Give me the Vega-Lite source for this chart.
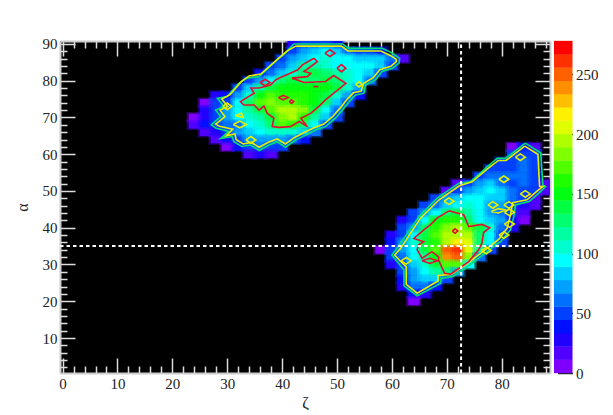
{"$schema":"https://vega.github.io/schema/vega-lite/v6.json","background":"white","padding":{"left":14,"top":36,"right":0,"bottom":0},"spacing":-1,
"config":{"view":{"stroke":null},"font":"Liberation Serif","axis":{"grid":false,"labelFont":"Liberation Serif","titleFont":"Liberation Serif","labelFontSize":15,"titleFontSize":16,"labelColor":"#222","titleColor":"#222","titleFontWeight":"normal","domainColor":"#ccc","domainWidth":2,"tickColor":"#ddd","tickWidth":1.5}},
"datasets":{
"cells":[
{"x":42,"y":90,"v":30},{"x":44,"y":90,"v":45},{"x":46,"y":90,"v":50},{"x":48,"y":90,"v":50},{"x":50,"y":90,"v":40},
{"x":42,"y":88,"v":55},{"x":44,"y":88,"v":70},{"x":46,"y":88,"v":80},{"x":48,"y":88,"v":90},{"x":50,"y":88,"v":85},{"x":52,"y":88,"v":60},{"x":54,"y":88,"v":55},{"x":56,"y":88,"v":55},{"x":58,"y":88,"v":40},
{"x":40,"y":86,"v":50},{"x":42,"y":86,"v":70},{"x":44,"y":86,"v":85},{"x":46,"y":86,"v":100},{"x":48,"y":86,"v":105},{"x":50,"y":86,"v":90},{"x":52,"y":86,"v":90},{"x":54,"y":86,"v":85},{"x":56,"y":86,"v":80},{"x":58,"y":86,"v":80},{"x":60,"y":86,"v":60},{"x":62,"y":86,"v":15},
{"x":38,"y":84,"v":45},{"x":40,"y":84,"v":65},{"x":42,"y":84,"v":85},{"x":44,"y":84,"v":115},{"x":46,"y":84,"v":120},{"x":48,"y":84,"v":110},{"x":50,"y":84,"v":100},{"x":52,"y":84,"v":100},{"x":54,"y":84,"v":95},{"x":56,"y":84,"v":90},{"x":58,"y":84,"v":80},{"x":60,"y":84,"v":50},
{"x":36,"y":82,"v":40},{"x":38,"y":82,"v":65},{"x":40,"y":82,"v":85},{"x":42,"y":82,"v":110},{"x":44,"y":82,"v":125},{"x":46,"y":82,"v":135},{"x":48,"y":82,"v":125},{"x":50,"y":82,"v":115},{"x":52,"y":82,"v":105},{"x":54,"y":82,"v":95},{"x":56,"y":82,"v":80},{"x":58,"y":82,"v":50},
{"x":34,"y":80,"v":50},{"x":36,"y":80,"v":70},{"x":38,"y":80,"v":95},{"x":40,"y":80,"v":125},{"x":42,"y":80,"v":135},{"x":44,"y":80,"v":130},{"x":46,"y":80,"v":125},{"x":48,"y":80,"v":140},{"x":50,"y":80,"v":130},{"x":52,"y":80,"v":110},{"x":54,"y":80,"v":90},{"x":56,"y":80,"v":60},
{"x":32,"y":78,"v":45},{"x":34,"y":78,"v":80},{"x":36,"y":78,"v":115},{"x":38,"y":78,"v":135},{"x":40,"y":78,"v":150},{"x":42,"y":78,"v":155},{"x":44,"y":78,"v":150},{"x":46,"y":78,"v":150},{"x":48,"y":78,"v":150},{"x":50,"y":78,"v":135},{"x":52,"y":78,"v":105},{"x":54,"y":78,"v":70},
{"x":28,"y":76,"v":30},{"x":30,"y":76,"v":40},{"x":32,"y":76,"v":70},{"x":34,"y":76,"v":105},{"x":36,"y":76,"v":145},{"x":38,"y":76,"v":170},{"x":40,"y":76,"v":165},{"x":42,"y":76,"v":165},{"x":44,"y":76,"v":160},{"x":46,"y":76,"v":150},{"x":48,"y":76,"v":135},{"x":50,"y":76,"v":110},{"x":52,"y":76,"v":75},{"x":54,"y":76,"v":40},
{"x":26,"y":74,"v":10},{"x":28,"y":74,"v":45},{"x":30,"y":74,"v":55},{"x":32,"y":74,"v":90},{"x":34,"y":74,"v":130},{"x":36,"y":74,"v":175},{"x":38,"y":74,"v":185},{"x":40,"y":74,"v":175},{"x":42,"y":74,"v":170},{"x":44,"y":74,"v":165},{"x":46,"y":74,"v":150},{"x":48,"y":74,"v":125},{"x":50,"y":74,"v":85},{"x":52,"y":74,"v":50},
{"x":26,"y":72,"v":25},{"x":28,"y":72,"v":50},{"x":30,"y":72,"v":75},{"x":32,"y":72,"v":95},{"x":34,"y":72,"v":120},{"x":36,"y":72,"v":135},{"x":38,"y":72,"v":170},{"x":40,"y":72,"v":190},{"x":42,"y":72,"v":195},{"x":44,"y":72,"v":180},{"x":46,"y":72,"v":140},{"x":48,"y":72,"v":100},{"x":50,"y":72,"v":60},
{"x":24,"y":70,"v":10},{"x":26,"y":70,"v":30},{"x":28,"y":70,"v":50},{"x":30,"y":70,"v":70},{"x":32,"y":70,"v":90},{"x":34,"y":70,"v":105},{"x":36,"y":70,"v":120},{"x":38,"y":70,"v":140},{"x":40,"y":70,"v":185},{"x":42,"y":70,"v":200},{"x":44,"y":70,"v":165},{"x":46,"y":70,"v":115},{"x":48,"y":70,"v":80},{"x":50,"y":70,"v":45},
{"x":24,"y":68,"v":20},{"x":26,"y":68,"v":35},{"x":28,"y":68,"v":55},{"x":30,"y":68,"v":60},{"x":32,"y":68,"v":65},{"x":34,"y":68,"v":95},{"x":36,"y":68,"v":105},{"x":38,"y":68,"v":130},{"x":40,"y":68,"v":175},{"x":42,"y":68,"v":160},{"x":44,"y":68,"v":130},{"x":46,"y":68,"v":95},{"x":48,"y":68,"v":55},
{"x":26,"y":66,"v":15},{"x":28,"y":66,"v":30},{"x":30,"y":66,"v":50},{"x":32,"y":66,"v":70},{"x":34,"y":66,"v":85},{"x":36,"y":66,"v":95},{"x":38,"y":66,"v":105},{"x":40,"y":66,"v":110},{"x":42,"y":66,"v":105},{"x":44,"y":66,"v":85},{"x":46,"y":66,"v":60},
{"x":28,"y":64,"v":15},{"x":30,"y":64,"v":40},{"x":32,"y":64,"v":55},{"x":34,"y":64,"v":70},{"x":36,"y":64,"v":75},{"x":38,"y":64,"v":70},{"x":40,"y":64,"v":75},{"x":42,"y":64,"v":65},{"x":44,"y":64,"v":40},
{"x":30,"y":62,"v":10},{"x":32,"y":62,"v":35},{"x":34,"y":62,"v":50},{"x":36,"y":62,"v":60},{"x":38,"y":62,"v":45},{"x":40,"y":62,"v":50},
{"x":34,"y":60,"v":15},{"x":36,"y":60,"v":25},{"x":38,"y":60,"v":15},
{"x":82,"y":62,"v":10},{"x":84,"y":62,"v":40},{"x":86,"y":62,"v":20},
{"x":82,"y":60,"v":45},{"x":84,"y":60,"v":50},{"x":86,"y":60,"v":45},
{"x":80,"y":58,"v":45},{"x":82,"y":58,"v":55},{"x":84,"y":58,"v":60},{"x":86,"y":58,"v":50},
{"x":78,"y":56,"v":45},{"x":80,"y":56,"v":50},{"x":82,"y":56,"v":55},{"x":84,"y":56,"v":60},{"x":86,"y":56,"v":50},
{"x":76,"y":54,"v":45},{"x":78,"y":54,"v":60},{"x":80,"y":54,"v":60},{"x":82,"y":54,"v":60},{"x":84,"y":54,"v":65},{"x":86,"y":54,"v":50},
{"x":72,"y":52,"v":15},{"x":74,"y":52,"v":50},{"x":76,"y":52,"v":75},{"x":78,"y":52,"v":85},{"x":80,"y":52,"v":65},{"x":82,"y":52,"v":55},{"x":84,"y":52,"v":60},{"x":86,"y":52,"v":50},{"x":88,"y":52,"v":20},
{"x":70,"y":50,"v":20},{"x":72,"y":50,"v":50},{"x":74,"y":50,"v":70},{"x":76,"y":50,"v":85},{"x":78,"y":50,"v":95},{"x":80,"y":50,"v":85},{"x":82,"y":50,"v":60},{"x":84,"y":50,"v":55},{"x":86,"y":50,"v":45},{"x":88,"y":50,"v":20},
{"x":68,"y":48,"v":45},{"x":70,"y":48,"v":70},{"x":72,"y":48,"v":85},{"x":74,"y":48,"v":100},{"x":76,"y":48,"v":95},{"x":78,"y":48,"v":85},{"x":80,"y":48,"v":80},{"x":82,"y":48,"v":65},{"x":84,"y":48,"v":50},{"x":86,"y":48,"v":15},
{"x":66,"y":46,"v":45},{"x":68,"y":46,"v":60},{"x":70,"y":46,"v":80},{"x":72,"y":46,"v":100},{"x":74,"y":46,"v":105},{"x":76,"y":46,"v":95},{"x":78,"y":46,"v":70},{"x":80,"y":46,"v":75},{"x":82,"y":46,"v":55},{"x":84,"y":46,"v":30},{"x":86,"y":46,"v":15},
{"x":64,"y":44,"v":45},{"x":66,"y":44,"v":70},{"x":68,"y":44,"v":95},{"x":70,"y":44,"v":130},{"x":72,"y":44,"v":140},{"x":74,"y":44,"v":115},{"x":76,"y":44,"v":90},{"x":78,"y":44,"v":75},{"x":80,"y":44,"v":60},{"x":82,"y":44,"v":45},{"x":84,"y":44,"v":20},
{"x":62,"y":42,"v":30},{"x":64,"y":42,"v":55},{"x":66,"y":42,"v":90},{"x":68,"y":42,"v":145},{"x":70,"y":42,"v":160},{"x":72,"y":42,"v":165},{"x":74,"y":42,"v":130},{"x":76,"y":42,"v":100},{"x":78,"y":42,"v":85},{"x":80,"y":42,"v":75},{"x":82,"y":42,"v":40},{"x":84,"y":42,"v":10},
{"x":62,"y":40,"v":45},{"x":64,"y":40,"v":70},{"x":66,"y":40,"v":130},{"x":68,"y":40,"v":165},{"x":70,"y":40,"v":185},{"x":72,"y":40,"v":195},{"x":74,"y":40,"v":175},{"x":76,"y":40,"v":140},{"x":78,"y":40,"v":110},{"x":80,"y":40,"v":65},{"x":82,"y":40,"v":30},
{"x":60,"y":38,"v":30},{"x":62,"y":38,"v":50},{"x":64,"y":38,"v":95},{"x":66,"y":38,"v":140},{"x":68,"y":38,"v":170},{"x":70,"y":38,"v":190},{"x":72,"y":38,"v":200},{"x":74,"y":38,"v":195},{"x":76,"y":38,"v":125},{"x":78,"y":38,"v":90},{"x":80,"y":38,"v":55},
{"x":60,"y":36,"v":40},{"x":62,"y":36,"v":70},{"x":64,"y":36,"v":110},{"x":66,"y":36,"v":140},{"x":68,"y":36,"v":165},{"x":70,"y":36,"v":195},{"x":72,"y":36,"v":215},{"x":74,"y":36,"v":205},{"x":76,"y":36,"v":130},{"x":78,"y":36,"v":90},{"x":80,"y":36,"v":50},
{"x":58,"y":34,"v":10},{"x":60,"y":34,"v":45},{"x":62,"y":34,"v":70},{"x":64,"y":34,"v":100},{"x":66,"y":34,"v":135},{"x":68,"y":34,"v":170},{"x":70,"y":34,"v":245},{"x":72,"y":34,"v":265},{"x":74,"y":34,"v":205},{"x":76,"y":34,"v":120},{"x":78,"y":34,"v":45},
{"x":60,"y":32,"v":45},{"x":62,"y":32,"v":65},{"x":64,"y":32,"v":90},{"x":66,"y":32,"v":120},{"x":68,"y":32,"v":155},{"x":70,"y":32,"v":235},{"x":72,"y":32,"v":250},{"x":74,"y":32,"v":185},{"x":76,"y":32,"v":60},
{"x":60,"y":30,"v":30},{"x":62,"y":30,"v":55},{"x":64,"y":30,"v":80},{"x":66,"y":30,"v":105},{"x":68,"y":30,"v":140},{"x":70,"y":30,"v":175},{"x":72,"y":30,"v":170},{"x":74,"y":30,"v":90},
{"x":62,"y":28,"v":45},{"x":64,"y":28,"v":70},{"x":66,"y":28,"v":95},{"x":68,"y":28,"v":115},{"x":70,"y":28,"v":130},{"x":72,"y":28,"v":70},
{"x":62,"y":26,"v":40},{"x":64,"y":26,"v":70},{"x":66,"y":26,"v":80},{"x":68,"y":26,"v":80},{"x":70,"y":26,"v":50},
{"x":62,"y":24,"v":25},{"x":64,"y":24,"v":60},{"x":66,"y":24,"v":65},{"x":68,"y":24,"v":40},
{"x":64,"y":22,"v":35},{"x":66,"y":22,"v":30},{"x":64,"y":20,"v":10}
],
"contours":[
{"c":"g1","k":"g","x":42.1,"y":90},{"c":"g1","k":"g","x":51,"y":90},{"c":"g1","k":"g","x":52.2,"y":88.8},{"c":"g1","k":"g","x":58.2,"y":88.8},{"c":"g1","k":"g","x":60.1,"y":87.5},{"c":"g1","k":"g","x":61.4,"y":86.1},{"c":"g1","k":"g","x":61.3,"y":84.8},{"c":"g1","k":"g","x":60.1,"y":83.4},{"c":"g1","k":"g","x":58.2,"y":82.5},{"c":"g1","k":"g","x":57,"y":80.2},{"c":"g1","k":"g","x":55.2,"y":78.8},{"c":"g1","k":"g","x":54.9,"y":76.6},{"c":"g1","k":"g","x":53.4,"y":76.1},{"c":"g1","k":"g","x":52.2,"y":74.3},{"c":"g1","k":"g","x":51,"y":72},{"c":"g1","k":"g","x":49.7,"y":69.8},{"c":"g1","k":"g","x":47.9,"y":67.5},{"c":"g1","k":"g","x":46.1,"y":66.6},{"c":"g1","k":"g","x":44.3,"y":65.2},{"c":"g1","k":"g","x":42.5,"y":63.9},{"c":"g1","k":"g","x":40.6,"y":61.9},{"c":"g1","k":"g","x":39.1,"y":63.4},{"c":"g1","k":"g","x":37.6,"y":62.5},{"c":"g1","k":"g","x":35.8,"y":61},{"c":"g1","k":"g","x":34.3,"y":62.5},{"c":"g1","k":"g","x":32.7,"y":62.1},{"c":"g1","k":"g","x":31.2,"y":63.4},{"c":"g1","k":"g","x":30.9,"y":64.8},{"c":"g1","k":"g","x":28.8,"y":64.3},{"c":"g1","k":"g","x":30.3,"y":66.2},{"c":"g1","k":"g","x":27.9,"y":67.1},{"c":"g1","k":"g","x":27.1,"y":68},{"c":"g1","k":"g","x":28.8,"y":70.2},{"c":"g1","k":"g","x":27.9,"y":72},{"c":"g1","k":"g","x":29.4,"y":73},{"c":"g1","k":"g","x":28.2,"y":75.2},{"c":"g1","k":"g","x":30,"y":75.7},{"c":"g1","k":"g","x":32.1,"y":79.3},{"c":"g1","k":"g","x":33.6,"y":80.7},{"c":"g1","k":"g","x":35.8,"y":81.1},{"c":"g1","k":"g","x":39.4,"y":86.1},{"c":"g1","k":"g","x":40.6,"y":87.5},{"c":"g1","k":"g","x":42.1,"y":90},
{"c":"y1","k":"y","x":42.5,"y":89.4},{"c":"y1","k":"y","x":50.8,"y":89.4},{"c":"y1","k":"y","x":52,"y":88.1},{"c":"y1","k":"y","x":58,"y":88.1},{"c":"y1","k":"y","x":59.8,"y":86.8},{"c":"y1","k":"y","x":60.8,"y":85.8},{"c":"y1","k":"y","x":60.8,"y":85.2},{"c":"y1","k":"y","x":59.8,"y":83.9},{"c":"y1","k":"y","x":57.8,"y":83},{"c":"y1","k":"y","x":56.6,"y":80.8},{"c":"y1","k":"y","x":54.8,"y":79.2},{"c":"y1","k":"y","x":54.4,"y":77.2},{"c":"y1","k":"y","x":53,"y":76.7},{"c":"y1","k":"y","x":51.8,"y":74.9},{"c":"y1","k":"y","x":50.6,"y":72.6},{"c":"y1","k":"y","x":49.3,"y":70.4},{"c":"y1","k":"y","x":47.6,"y":68.2},{"c":"y1","k":"y","x":45.8,"y":67.2},{"c":"y1","k":"y","x":44,"y":65.9},{"c":"y1","k":"y","x":42.2,"y":64.5},{"c":"y1","k":"y","x":40.6,"y":62.8},{"c":"y1","k":"y","x":39.1,"y":64.2},{"c":"y1","k":"y","x":37.6,"y":63.3},{"c":"y1","k":"y","x":35.8,"y":61.9},{"c":"y1","k":"y","x":34.4,"y":63.2},{"c":"y1","k":"y","x":32.9,"y":62.8},{"c":"y1","k":"y","x":31.6,"y":64},{"c":"y1","k":"y","x":31.4,"y":65.5},{"c":"y1","k":"y","x":29.8,"y":65},{"c":"y1","k":"y","x":31,"y":66.8},{"c":"y1","k":"y","x":28.6,"y":67.6},{"c":"y1","k":"y","x":27.9,"y":68.2},{"c":"y1","k":"y","x":29.6,"y":70.2},{"c":"y1","k":"y","x":28.7,"y":72},{"c":"y1","k":"y","x":30.1,"y":73},{"c":"y1","k":"y","x":29,"y":75},{"c":"y1","k":"y","x":30.5,"y":76.2},{"c":"y1","k":"y","x":32.6,"y":79.8},{"c":"y1","k":"y","x":34,"y":81.3},{"c":"y1","k":"y","x":36.1,"y":81.8},{"c":"y1","k":"y","x":39.8,"y":86.7},{"c":"y1","k":"y","x":41,"y":88.2},{"c":"y1","k":"y","x":42.5,"y":89.4},
{"c":"r1","k":"r","x":45.8,"y":86.1},{"c":"r1","k":"r","x":43.7,"y":84.3},{"c":"r1","k":"r","x":42.8,"y":82.9},{"c":"r1","k":"r","x":40,"y":81.1},{"c":"r1","k":"r","x":38.8,"y":80.2},{"c":"r1","k":"r","x":37.9,"y":78.8},{"c":"r1","k":"r","x":35.8,"y":78},{"c":"r1","k":"r","x":34.3,"y":78},{"c":"r1","k":"r","x":34.9,"y":76.6},{"c":"r1","k":"r","x":32.4,"y":74.3},{"c":"r1","k":"r","x":33,"y":73.4},{"c":"r1","k":"r","x":34.9,"y":73.4},{"c":"r1","k":"r","x":35.8,"y":72},{"c":"r1","k":"r","x":36.7,"y":73.1},{"c":"r1","k":"r","x":37.3,"y":71.1},{"c":"r1","k":"r","x":38.5,"y":69.8},{"c":"r1","k":"r","x":38.2,"y":67.5},{"c":"r1","k":"r","x":39.4,"y":67.3},{"c":"r1","k":"r","x":41.5,"y":67.5},{"c":"r1","k":"r","x":43.1,"y":68.9},{"c":"r1","k":"r","x":44.6,"y":67.5},{"c":"r1","k":"r","x":43.4,"y":69.8},{"c":"r1","k":"r","x":45.2,"y":71.1},{"c":"r1","k":"r","x":46.7,"y":73},{"c":"r1","k":"r","x":47.9,"y":74.8},{"c":"r1","k":"r","x":51.6,"y":79.3},{"c":"r1","k":"r","x":49.4,"y":81.4},{"c":"r1","k":"r","x":47.9,"y":79.8},{"c":"r1","k":"r","x":44,"y":79.5},{"c":"r1","k":"r","x":41.8,"y":80.7},{"c":"r1","k":"r","x":44.6,"y":81.1},{"c":"r1","k":"r","x":45.2,"y":82},{"c":"r1","k":"r","x":44,"y":82.5},{"c":"r1","k":"r","x":46.4,"y":85.2},{"c":"r1","k":"r","x":45.8,"y":86.1},
{"c":"a1","k":"r","x":47.8,"y":87.5},{"c":"a1","k":"r","x":48.7,"y":88.4},{"c":"a1","k":"r","x":49.6,"y":87.5},{"c":"a1","k":"r","x":48.7,"y":86.6},{"c":"a1","k":"r","x":47.8,"y":87.5},
{"c":"a2","k":"r","x":50,"y":83.4},{"c":"a2","k":"r","x":50.8,"y":84.4},{"c":"a2","k":"r","x":51.6,"y":83.4},{"c":"a2","k":"r","x":50.8,"y":82.4},{"c":"a2","k":"r","x":50,"y":83.4},
{"c":"a3","k":"r","x":36,"y":79.5},{"c":"a3","k":"r","x":36.9,"y":80.4},{"c":"a3","k":"r","x":37.8,"y":79.5},{"c":"a3","k":"r","x":36.9,"y":78.6},{"c":"a3","k":"r","x":36,"y":79.5},
{"c":"a4","k":"r","x":39.3,"y":75.4},{"c":"a4","k":"r","x":40.2,"y":76},{"c":"a4","k":"r","x":41.1,"y":75.4},{"c":"a4","k":"r","x":40.2,"y":74.8},{"c":"a4","k":"r","x":39.3,"y":75.4},
{"c":"a5","k":"r","x":41.3,"y":74.3},{"c":"a5","k":"r","x":41.7,"y":74.8},{"c":"a5","k":"r","x":42.1,"y":74.3},{"c":"a5","k":"r","x":41.7,"y":73.8},{"c":"a5","k":"r","x":41.3,"y":74.3},
{"c":"a6","k":"r","x":45.7,"y":78.4},{"c":"a6","k":"r","x":46.6,"y":78.4},
{"c":"b1","k":"y","x":31.1,"y":68.1},{"c":"b1","k":"y","x":32.3,"y":69},{"c":"b1","k":"y","x":33.5,"y":68.1},{"c":"b1","k":"y","x":32.3,"y":67.2},{"c":"b1","k":"y","x":31.1,"y":68.1},
{"c":"b2","k":"y","x":33.4,"y":63.9},{"c":"b2","k":"y","x":34.3,"y":64.8},{"c":"b2","k":"y","x":35.2,"y":63.9},{"c":"b2","k":"y","x":34.3,"y":63},{"c":"b2","k":"y","x":33.4,"y":63.9},
{"c":"b3","k":"y","x":29.2,"y":73},{"c":"b3","k":"y","x":30,"y":73.9},{"c":"b3","k":"y","x":30.8,"y":73},{"c":"b3","k":"y","x":30,"y":72.1},{"c":"b3","k":"y","x":29.2,"y":73},
{"c":"b4","k":"y","x":53.4,"y":79},{"c":"b4","k":"y","x":54,"y":79.7},{"c":"b4","k":"y","x":54.6,"y":79},{"c":"b4","k":"y","x":54,"y":78.3},{"c":"b4","k":"y","x":53.4,"y":79},
{"c":"b5","k":"y","x":31.5,"y":70.5},{"c":"b5","k":"y","x":32.6,"y":71.2},{"c":"b5","k":"y","x":32.9,"y":70},{"c":"b5","k":"y","x":31.5,"y":70.5},
{"c":"g2","k":"g","x":84.3,"y":63},{"c":"g2","k":"g","x":87.1,"y":60.4},{"c":"g2","k":"g","x":87.5,"y":51.6},{"c":"g2","k":"g","x":88,"y":51.2},{"c":"g2","k":"g","x":86.8,"y":49.4},{"c":"g2","k":"g","x":85,"y":47.1},{"c":"g2","k":"g","x":82.5,"y":46.2},{"c":"g2","k":"g","x":82.2,"y":43},{"c":"g2","k":"g","x":81.6,"y":39.4},{"c":"g2","k":"g","x":79.8,"y":36.2},{"c":"g2","k":"g","x":78.9,"y":35.3},{"c":"g2","k":"g","x":75.8,"y":31.7},{"c":"g2","k":"g","x":73.4,"y":29},{"c":"g2","k":"g","x":71,"y":26.7},{"c":"g2","k":"g","x":68.9,"y":26.2},{"c":"g2","k":"g","x":68.9,"y":24.9},{"c":"g2","k":"g","x":64.6,"y":21.5},{"c":"g2","k":"g","x":62.2,"y":24.2},{"c":"g2","k":"g","x":62.2,"y":28.5},{"c":"g2","k":"g","x":60,"y":32.6},{"c":"g2","k":"g","x":60.7,"y":34},{"c":"g2","k":"g","x":63.7,"y":40.3},{"c":"g2","k":"g","x":64.9,"y":43},{"c":"g2","k":"g","x":68.2,"y":48},{"c":"g2","k":"g","x":72.2,"y":52.1},{"c":"g2","k":"g","x":74.3,"y":52.5},{"c":"g2","k":"g","x":77.4,"y":56.6},{"c":"g2","k":"g","x":79.2,"y":58.9},{"c":"g2","k":"g","x":80.7,"y":58.9},{"c":"g2","k":"g","x":84.3,"y":63},
{"c":"y2","k":"y","x":84.2,"y":62.2},{"c":"y2","k":"y","x":86.6,"y":60},{"c":"y2","k":"y","x":86.9,"y":51.2},{"c":"y2","k":"y","x":87.5,"y":51.2},{"c":"y2","k":"y","x":86.5,"y":50},{"c":"y2","k":"y","x":84.6,"y":47.6},{"c":"y2","k":"y","x":82,"y":46.8},{"c":"y2","k":"y","x":81.6,"y":43.5},{"c":"y2","k":"y","x":81,"y":39.9},{"c":"y2","k":"y","x":79.5,"y":36.9},{"c":"y2","k":"y","x":78.6,"y":35.8},{"c":"y2","k":"y","x":75.5,"y":32.3},{"c":"y2","k":"y","x":73.1,"y":29.6},{"c":"y2","k":"y","x":70.8,"y":27.3},{"c":"y2","k":"y","x":68.4,"y":27},{"c":"y2","k":"y","x":68.4,"y":25.5},{"c":"y2","k":"y","x":64.6,"y":22.2},{"c":"y2","k":"y","x":62.6,"y":24.6},{"c":"y2","k":"y","x":62.6,"y":29.4},{"c":"y2","k":"y","x":61.6,"y":30.8},{"c":"y2","k":"y","x":60.5,"y":32.6},{"c":"y2","k":"y","x":61.6,"y":34.4},{"c":"y2","k":"y","x":64,"y":39.9},{"c":"y2","k":"y","x":65.2,"y":42.6},{"c":"y2","k":"y","x":68.6,"y":47.6},{"c":"y2","k":"y","x":72.3,"y":51.4},{"c":"y2","k":"y","x":74.6,"y":52.5},{"c":"y2","k":"y","x":77.4,"y":56},{"c":"y2","k":"y","x":79.4,"y":58.3},{"c":"y2","k":"y","x":80.8,"y":58.3},{"c":"y2","k":"y","x":84.2,"y":62.2},
{"c":"r2","k":"r","x":70.4,"y":44.6},{"c":"r2","k":"r","x":73.1,"y":43.5},{"c":"r2","k":"r","x":74,"y":40.3},{"c":"r2","k":"r","x":76.4,"y":40.9},{"c":"r2","k":"r","x":77.8,"y":40},{"c":"r2","k":"r","x":76.7,"y":38.7},{"c":"r2","k":"r","x":76.4,"y":35.8},{"c":"r2","k":"r","x":75.8,"y":34},{"c":"r2","k":"r","x":74,"y":30.8},{"c":"r2","k":"r","x":70.7,"y":27.4},{"c":"r2","k":"r","x":69.6,"y":27.6},{"c":"r2","k":"r","x":68.5,"y":31.2},{"c":"r2","k":"r","x":68.5,"y":32.1},{"c":"r2","k":"r","x":67.3,"y":33.5},{"c":"r2","k":"r","x":65.5,"y":31.7},{"c":"r2","k":"r","x":64.6,"y":34},{"c":"r2","k":"r","x":64.8,"y":35.3},{"c":"r2","k":"r","x":65.8,"y":36.2},{"c":"r2","k":"r","x":64,"y":37.1},{"c":"r2","k":"r","x":65.8,"y":39.4},{"c":"r2","k":"r","x":67,"y":40.8},{"c":"r2","k":"r","x":68.2,"y":42.6},{"c":"r2","k":"r","x":70.4,"y":44.6},
{"c":"e1","k":"r","x":65.5,"y":31},{"c":"e1","k":"r","x":66.9,"y":31.7},{"c":"e1","k":"r","x":68.3,"y":31},{"c":"e1","k":"r","x":66.9,"y":30.3},{"c":"e1","k":"r","x":65.5,"y":31},
{"c":"e2","k":"r","x":71,"y":39.1},{"c":"e2","k":"r","x":71.5,"y":39.7},{"c":"e2","k":"r","x":72,"y":39.1},{"c":"e2","k":"r","x":71.5,"y":38.5},{"c":"e2","k":"r","x":71,"y":39.1},
{"c":"d1","k":"y","x":82.5,"y":59.2},{"c":"d1","k":"y","x":83.4,"y":60.1},{"c":"d1","k":"y","x":84.3,"y":59.2},{"c":"d1","k":"y","x":83.4,"y":58.3},{"c":"d1","k":"y","x":82.5,"y":59.2},
{"c":"d2","k":"y","x":79.5,"y":53.2},{"c":"d2","k":"y","x":80.4,"y":54.1},{"c":"d2","k":"y","x":81.3,"y":53.2},{"c":"d2","k":"y","x":80.4,"y":52.3},{"c":"d2","k":"y","x":79.5,"y":53.2},
{"c":"d3","k":"y","x":83.4,"y":49.2},{"c":"d3","k":"y","x":84.3,"y":50.1},{"c":"d3","k":"y","x":85.2,"y":49.2},{"c":"d3","k":"y","x":84.3,"y":48.3},{"c":"d3","k":"y","x":83.4,"y":49.2},
{"c":"d4","k":"y","x":77.5,"y":46.2},{"c":"d4","k":"y","x":78.4,"y":47.1},{"c":"d4","k":"y","x":79.3,"y":46.2},{"c":"d4","k":"y","x":78.4,"y":45.3},{"c":"d4","k":"y","x":77.5,"y":46.2},
{"c":"d5","k":"y","x":80.4,"y":46.2},{"c":"d5","k":"y","x":81.3,"y":47.1},{"c":"d5","k":"y","x":82.2,"y":46.2},{"c":"d5","k":"y","x":81.3,"y":45.3},{"c":"d5","k":"y","x":80.4,"y":46.2},
{"c":"d6","k":"y","x":80.5,"y":44.2},{"c":"d6","k":"y","x":81.4,"y":45.1},{"c":"d6","k":"y","x":82.3,"y":44.2},{"c":"d6","k":"y","x":81.4,"y":43.3},{"c":"d6","k":"y","x":80.5,"y":44.2},
{"c":"d7","k":"y","x":78.1,"y":44.4},{"c":"d7","k":"y","x":79.4,"y":45.2},{"c":"d7","k":"y","x":80.7,"y":44.8},{"c":"d7","k":"y","x":79.4,"y":44},{"c":"d7","k":"y","x":78.1,"y":44.4},
{"c":"d8","k":"y","x":80.5,"y":41},{"c":"d8","k":"y","x":81.4,"y":41.9},{"c":"d8","k":"y","x":82.3,"y":41},{"c":"d8","k":"y","x":81.4,"y":40.1},{"c":"d8","k":"y","x":80.5,"y":41},
{"c":"d9","k":"y","x":79.5,"y":38},{"c":"d9","k":"y","x":80.4,"y":38.9},{"c":"d9","k":"y","x":81.3,"y":38},{"c":"d9","k":"y","x":80.4,"y":37.1},{"c":"d9","k":"y","x":79.5,"y":38},
{"c":"d10","k":"y","x":76.3,"y":33.8},{"c":"d10","k":"y","x":77.2,"y":34.7},{"c":"d10","k":"y","x":78.1,"y":33.8},{"c":"d10","k":"y","x":77.2,"y":32.9},{"c":"d10","k":"y","x":76.3,"y":33.8},
{"c":"d11","k":"y","x":61.7,"y":31},{"c":"d11","k":"y","x":62.6,"y":31.9},{"c":"d11","k":"y","x":63.5,"y":31},{"c":"d11","k":"y","x":62.6,"y":30.1},{"c":"d11","k":"y","x":61.7,"y":31},
{"c":"d12","k":"y","x":69.5,"y":47.2},{"c":"d12","k":"y","x":70.4,"y":48.1},{"c":"d12","k":"y","x":71.3,"y":47.2},{"c":"d12","k":"y","x":70.4,"y":46.3},{"c":"d12","k":"y","x":69.5,"y":47.2}
],
"crossV":[{"x":72.6,"y":0.48},{"x":72.6,"y":90.8}],
"crossH":[{"x":-0.47,"y":35},{"x":88.8,"y":35}],
"bands":[{"v":5.56},{"v":16.68},{"v":27.8},{"v":38.92},{"v":50.04},{"v":61.16},{"v":72.28},{"v":83.4},{"v":94.52},{"v":105.64},{"v":116.76},{"v":127.88},{"v":139},{"v":150.12},{"v":161.24},{"v":172.36},{"v":183.48},{"v":194.6},{"v":205.72},{"v":216.84},{"v":227.96},{"v":239.08},{"v":250.2},{"v":261.32},{"v":272.44}]
},
"hconcat":[
{"width":490,"height":332,"view":{"fill":"black","stroke":null},
"resolve":{"axis":{"x":"independent","y":"independent"},"scale":{"color":"independent"}},
"layer":[
{"data":{"name":"cells"},"mark":{"type":"rect","width":11.2,"height":7.6,"clip":true},
"encoding":{
"x":{"field":"x","type":"quantitative","scale":{"domain":[-0.47,88.8],"nice":false,"zero":false},"axis":{"orient":"bottom","title":"ζ","titlePadding":3,"values":[0,10,20,30,40,50,60,70,80],"tickSize":-15,"labelPadding":18,"format":"d","labelFlush":false,"labelOverlap":false,"domain":true}},
"y":{"field":"y","type":"quantitative","scale":{"domain":[0.48,90.8],"nice":false,"zero":false},"axis":{"orient":"left","title":"α","titlePadding":12,"values":[10,20,30,40,50,60,70,80,90],"tickSize":-15,"labelPadding":18,"format":"d","labelFlush":false,"labelOverlap":false,"domain":true}},
"color":{"field":"v","type":"quantitative","legend":null,"scale":{"type":"quantize","domain":[0,278],"nice":false,"range":["#8000ff","#5000ff","#2000ff","#0010ff","#0040ff","#0070ff","#00a0ff","#00cfff","#00ffff","#00ffcf","#00ffa0","#00ff70","#00ff40","#00ff10","#20ff00","#50ff00","#80ff00","#afff00","#dfff00","#fff000","#ffbf00","#ff8f00","#ff6000","#ff3000","#ff0000"]}}}},
{"data":{"name":"cells"},"mark":{"type":"rect","width":15.5,"height":10.5,"opacity":0.4,"clip":true},
"encoding":{
"x":{"field":"x","type":"quantitative","axis":null},
"y":{"field":"y","type":"quantitative","axis":null},
"color":{"field":"v","type":"quantitative","legend":null,"scale":{"type":"quantize","domain":[0,278],"nice":false,"range":["#8000ff","#5000ff","#2000ff","#0010ff","#0040ff","#0070ff","#00a0ff","#00cfff","#00ffff","#00ffcf","#00ffa0","#00ff70","#00ff40","#00ff10","#20ff00","#50ff00","#80ff00","#afff00","#dfff00","#fff000","#ffbf00","#ff8f00","#ff6000","#ff3000","#ff0000"]}}}},
{"data":{"name":"contours"},"transform":[{"window":[{"op":"row_number","as":"i"}]}],"mark":{"type":"line","strokeWidth":1.6,"clip":true},
"encoding":{"order":{"field":"i","type":"quantitative"},"detail":{"field":"c"},
"x":{"field":"x","type":"quantitative","axis":{"orient":"bottom","title":null,"values":[2,4,6,8,12,14,16,18,22,24,26,28,32,34,36,38,42,44,46,48,52,54,56,58,62,64,66,68,72,74,76,78,82,84,86,88],"tickSize":-7,"labels":false,"domain":false}},
"y":{"field":"y","type":"quantitative","axis":{"orient":"left","title":null,"values":[2,4,6,8,12,14,16,18,22,24,26,28,32,34,36,38,42,44,46,48,52,54,56,58,62,64,66,68,72,74,76,78,82,84,86,88],"tickSize":-7,"labels":false,"domain":false}},
"color":{"field":"k","type":"nominal","legend":null,"scale":{"domain":["g","y","r"],"range":["#00e070","#e6f000","#e01030"]}}}},
{"data":{"name":"crossV"},"mark":{"type":"line","color":"white","strokeWidth":2,"strokeDash":[3.5,3]},
"encoding":{
"x":{"field":"x","type":"quantitative","axis":{"orient":"top","title":null,"values":[0,10,20,30,40,50,60,70,80],"tickSize":-15,"labels":false,"domain":true}},
"y":{"field":"y","type":"quantitative","axis":{"orient":"right","title":null,"values":[10,20,30,40,50,60,70,80,90],"tickSize":-15,"labels":false,"domain":true}}}},
{"data":{"name":"crossH"},"mark":{"type":"line","color":"white","strokeWidth":2,"strokeDash":[3.5,3]},
"encoding":{
"x":{"field":"x","type":"quantitative","axis":{"orient":"top","title":null,"values":[2,4,6,8,12,14,16,18,22,24,26,28,32,34,36,38,42,44,46,48,52,54,56,58,62,64,66,68,72,74,76,78,82,84,86,88],"tickSize":-7,"labels":false,"domain":false}},
"y":{"field":"y","type":"quantitative","axis":{"orient":"right","title":null,"values":[2,4,6,8,12,14,16,18,22,24,26,28,32,34,36,38,42,44,46,48,52,54,56,58,62,64,66,68,72,74,76,78,82,84,86,88],"tickSize":-7,"labels":false,"domain":false}}}}
]},
{"width":18.5,"height":332,"data":{"name":"bands"},"mark":{"type":"rect","height":13.6},
"encoding":{
"y":{"field":"v","type":"quantitative","scale":{"domain":[0,278],"nice":false,"zero":false},"axis":{"orient":"right","title":null,"values":[0,50,100,150,200,250],"tickSize":-15,"tickColor":"#222","domain":false,"labelPadding":18,"format":"d","labelFlush":false}},
"color":{"field":"v","type":"quantitative","legend":null,"scale":{"type":"quantize","domain":[0,278],"nice":false,"range":["#8000ff","#5000ff","#2000ff","#0010ff","#0040ff","#0070ff","#00a0ff","#00cfff","#00ffff","#00ffcf","#00ffa0","#00ff70","#00ff40","#00ff10","#20ff00","#50ff00","#80ff00","#afff00","#dfff00","#fff000","#ffbf00","#ff8f00","#ff6000","#ff3000","#ff0000"]}}}}
]}
